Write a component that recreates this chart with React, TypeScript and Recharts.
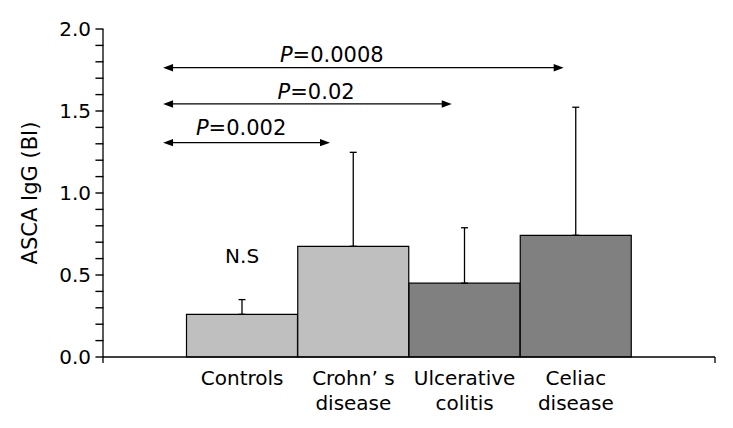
import { Bar, Cell, ComposedChart, ErrorBar, ReferenceDot, ReferenceLine, XAxis, YAxis } from "recharts";

const categories = ["Controls", "Crohn’ s\ndisease", "Ulcerative\ncolitis", "Celiac\ndisease"];
const means = [0.26, 0.675, 0.45, 0.742];
const sds = [0.09, 0.573, 0.338, 0.781];
const yTicks = [0, 0.1, 0.2, 0.3, 0.4, 0.5, 0.6, 0.7, 0.8, 0.9, 1.0, 1.1, 1.2, 1.3, 1.4, 1.5, 1.6, 1.7, 1.8, 1.9, 2.0];
const yLabels = [0, 0.5, 1.0, 1.5, 2.0];

// significance brackets: arrow extents and label centre, in data units of the hidden numeric x axis
const pValues = ["0.0008", "0.02", "0.002"];
const arrowY = [1.764, 1.543, 1.307];
const arrowFrom = [0.29, 0.29, 0.29];
const arrowTo = [3.89, 2.884, 1.79];
const labelX = [1.806, 1.665, 0.991];
const labelY = [1.841, 1.613, 1.399];

const barFills = ["#bfbfbf", "#bfbfbf", "#808080", "#808080"];
const FONT = "'DejaVu Sans', Verdana, sans-serif";
const X_MIN = -0.25;
const X_MAX = 5.25;
const TICK = 0.068; // ~7.5px in hidden x-axis units

const data = categories.map((name, i) => ({ name, pos: i + 1, mean: means[i], err: [0, sds[i]] }));

function YTick({ x, y, payload }: any) {
  return (
    <text x={x} y={y} dy="0.36em" textAnchor="end" fontSize={20} fontFamily={FONT} fill="#000">
      {Number(payload.value).toFixed(1)}
    </text>
  );
}

function XTick({ x, y, payload }: any) {
  const lines = String(payload.value).split("\n");
  return (
    <text x={x} y={y} textAnchor="middle" fontSize={20} fontFamily={FONT} fill="#000">
      {lines.map((l, i) => (
        <tspan key={i} x={x} dy={i === 0 ? 28 : 25}>
          {l}
        </tspan>
      ))}
    </text>
  );
}

function Arrow({ x1, y1, x2 }: any) {
  const h = 10;
  const w = 3.7;
  return (
    <g>
      <line x1={x1 + h - 1} y1={y1} x2={x2 - h + 1} y2={y1} stroke="#000" strokeWidth={1.3} />
      <polygon points={`${x1},${y1} ${x1 + h},${y1 - w} ${x1 + h},${y1 + w}`} fill="#000" />
      <polygon points={`${x2},${y1} ${x2 - h},${y1 - w} ${x2 - h},${y1 + w}`} fill="#000" />
    </g>
  );
}

export default function App() {
  return (
    <div style={{ fontFamily: FONT }}>
      <ComposedChart
        width={725}
        height={412}
        data={data}
        margin={{ top: 21, right: 18, left: 0, bottom: 8 }}
        barCategoryGap={0}
      >
        <XAxis
          dataKey="name"
          padding={{ left: 83.5, right: 83.5 }}
          interval={0}
          tickLine={false}
          tickSize={0}
          tickMargin={0}
          height={55}
          axisLine={{ stroke: "#000", strokeWidth: 1.3 }}
          tick={<XTick />}
        />
        <XAxis xAxisId="n" dataKey="pos" type="number" domain={[X_MIN, X_MAX]} allowDataOverflow hide />
        <YAxis
          domain={[0, 2]}
          ticks={yLabels}
          interval={0}
          width={95}
          tickSize={7}
          tickMargin={5}
          axisLine={{ stroke: "#000", strokeWidth: 1.3 }}
          tickLine={false}
          tick={<YTick />}
          label={(props: any) => {
            const vb = props.viewBox || { x: 0, y: 21, height: 328 };
            const cx = vb.x + 22;
            const cy = vb.y + vb.height / 2;
            return (
              <text
                x={cx}
                y={cy}
                transform={`rotate(-90, ${cx}, ${cy})`}
                textAnchor="middle"
                dominantBaseline="central"
                fontSize={21}
                fontFamily={FONT}
                fill="#000"
              >
                ASCA IgG (BI)
              </text>
            );
          }}
        />
        <Bar dataKey="mean" stroke="#000" strokeWidth={1.2} isAnimationActive={false}>
          {data.map((d, i) => (
            <Cell key={d.name} fill={barFills[i]} />
          ))}
          <ErrorBar dataKey="err" width={3.5} stroke="#000" strokeWidth={1.3} direction="y" />
        </Bar>
        {yTicks.map((t) => (
          <ReferenceLine
            key={`yt${t}`}
            xAxisId="n"
            ifOverflow="visible"
            segment={[{ x: X_MIN - TICK, y: t }, { x: X_MIN + 0.004, y: t }]}
            stroke="#000"
            strokeWidth={1.4}
          />
        ))}
        <ReferenceLine
          xAxisId="n"
          ifOverflow="visible"
          segment={[{ x: X_MIN, y: 0 }, { x: X_MIN, y: -0.037 }]}
          stroke="#000"
          strokeWidth={1.3}
        />
        <ReferenceLine
          xAxisId="n"
          ifOverflow="visible"
          segment={[{ x: X_MAX, y: 0 }, { x: X_MAX, y: -0.037 }]}
          stroke="#000"
          strokeWidth={1.3}
        />
        {pValues.map((p, i) => (
          <ReferenceLine
            key={`a${p}`}
            xAxisId="n"
            ifOverflow="visible"
            segment={[{ x: arrowFrom[i], y: arrowY[i] }, { x: arrowTo[i], y: arrowY[i] }]}
            shape={(props: any) => <Arrow {...props} />}
          />
        ))}
        {pValues.map((p, i) => (
          <ReferenceDot
            key={`t${p}`}
            xAxisId="n"
            ifOverflow="visible"
            x={labelX[i]}
            y={labelY[i]}
            r={0}
            shape={(props: any) => (
              <text
                x={props.cx}
                y={props.cy}
                textAnchor="middle"
                dominantBaseline="central"
                fontSize={21}
                fontFamily={FONT}
                fill="#000"
              >
                <tspan fontStyle="italic">P</tspan>={p}
              </text>
            )}
          />
        ))}
        <ReferenceDot
          x="Controls"
          y={0.614}
          r={0}
          shape={(props: any) => (
            <text
              x={props.cx}
              y={props.cy}
              textAnchor="middle"
              dominantBaseline="central"
              fontSize={20}
              fontFamily={FONT}
              fill="#000"
            >
              N.S
            </text>
          )}
        />
      </ComposedChart>
    </div>
  );
}
